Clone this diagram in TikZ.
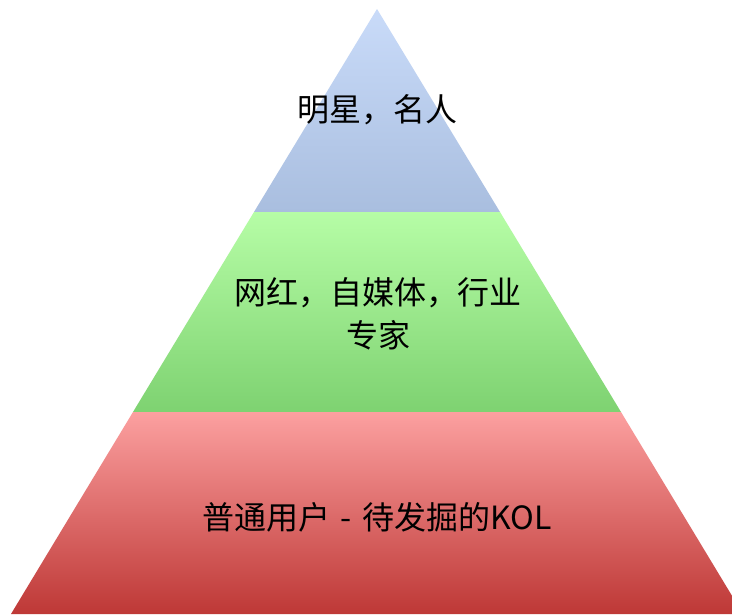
\documentclass[tikz,border=0pt]{standalone}
\usepackage{fontspec}
\newfontfamily\cjk{Noto Sans CJK SC}
\definecolor{topA}{HTML}{C9DBF9}
\definecolor{topB}{HTML}{A9BEDF}
\definecolor{midA}{HTML}{B6FDA6}
\definecolor{midB}{HTML}{7ED271}
\definecolor{lowA}{HTML}{FCA0A0}
\definecolor{lowB}{HTML}{BE3836}
\tikzset{
  label text/.style={font=\cjk\fontsize{32}{43}\selectfont, text=black, align=center, inner sep=0pt},
}
\begin{document}
\begin{tikzpicture}[x=1pt,y=-1pt]
\useasboundingbox (0,0) rectangle (732,616);
\fill[white] (0,0) rectangle (732,616);
\begin{scope}
\clip (0,0) rectangle (732,616);
\shade[top color=topA, bottom color=topB] (377,9) -- (500,212) -- (254,212) -- cycle;
\shade[top color=midA, bottom color=midB] (254,212) -- (500,212) -- (621,412) -- (133,412) -- cycle;
\shade[top color=lowA, bottom color=lowB] (133,412) -- (621,412) -- (743,614) -- (11,614) -- cycle;
\end{scope}
\node[label text] (t1) at (377,110) {明星，名人};
\node[label text] (t2) at (378,314) {网红，自媒体，行业\\专家};
\node[label text] (t3) at (377,517) {普通用户\hspace{0.33em}-\hspace{0.33em}待发掘的KOL};
\end{tikzpicture}
\end{document}
